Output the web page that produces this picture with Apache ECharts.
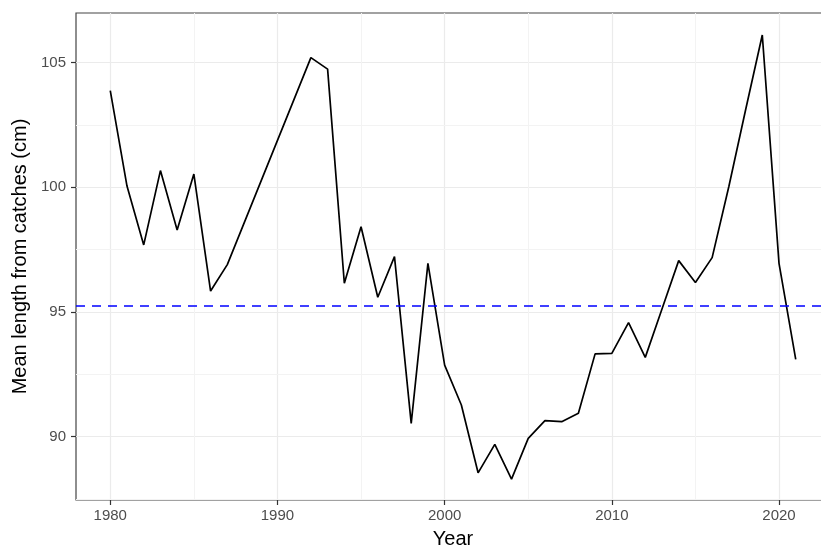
<!DOCTYPE html>
<html>
<head>
<meta charset="utf-8">
<script src="https://cdn.jsdelivr.net/npm/echarts@6/dist/echarts.min.js"></script>
<style>
html, body { margin: 0; padding: 0; background: #fff; }
#main { width: 821px; height: 548px; }
</style>
</head>
<body>
<div id="main"></div>
<script>
var years = [1980, 1981, 1982, 1983, 1984, 1985, 1986, 1987, 1992, 1993, 1994, 1995, 1996, 1997, 1998, 1999,
  2000, 2001, 2002, 2003, 2004, 2005, 2006, 2007, 2008, 2009, 2010, 2011, 2012, 2013, 2014, 2015, 2016,
  2017, 2018, 2019, 2020, 2021];
var meanLength = [103.88, 100.05, 97.69, 100.67, 98.29, 100.53, 95.84, 96.9, 105.2, 104.74, 96.15, 98.42, 95.59, 97.22, 90.53, 96.95,
  92.87, 91.27, 88.55, 89.69, 88.30, 89.93, 90.64, 90.60, 90.94, 93.32, 93.34, 94.57, 93.18, 95.12, 97.06, 96.18, 97.18,
  100.03, 103.1, 106.11, 96.95, 93.10];
var overallMean = 95.24;
var xTicks = [1980, 1990, 2000, 2010, 2020];
var yTicks = [90, 95, 100, 105];
var xMinor = [1985, 1995, 2005, 2015];
var yMinor = [87.5, 92.5, 97.5, 102.5];

var chartDom = document.getElementById('main');
var chart = echarts.init(chartDom);

var minorLines = [];
xMinor.forEach(function (v) { minorLines.push({ xAxis: v }); });
yMinor.forEach(function (v) { minorLines.push({ yAxis: v }); });

var option = {
  animation: false,
  textStyle: { fontFamily: 'Liberation Sans' },
  grid: {
    left: 76, top: 13, bottom: 48, width: 754,
    outerBoundsMode: 'none', containLabel: false,
    show: true, borderColor: '#444444', borderWidth: 1.2
  },
  xAxis: {
    type: 'value',
    min: 1977.95, max: 2023.05,
    name: 'Year', nameLocation: 'middle', nameGap: 29,
    nameTextStyle: { fontSize: 20, color: '#000' },
    axisLine: { show: false },
    axisTick: { show: true, length: 5, customValues: xTicks, lineStyle: { color: '#333', width: 1.2 } },
    axisLabel: { customValues: xTicks, fontSize: 15, color: '#4d4d4d', margin: 8,
      formatter: function (v) { return String(v); } },
    splitLine: { show: true, customValues: xTicks, lineStyle: { color: '#ebebeb', width: 1.2 } }
  },
  yAxis: {
    type: 'value',
    min: 87.46, max: 106.99,
    name: 'Mean length from catches (cm)', nameLocation: 'middle', nameGap: 42,
    nameTextStyle: { fontSize: 20, color: '#000' },
    axisLine: { show: false },
    axisTick: { show: true, length: 5, customValues: yTicks, lineStyle: { color: '#333', width: 1.2 } },
    axisLabel: { customValues: yTicks, fontSize: 15, color: '#4d4d4d', margin: 10 },
    splitLine: { show: true, customValues: yTicks, lineStyle: { color: '#ebebeb', width: 1.2 } }
  },
  series: [
    {
      type: 'line',
      data: years.map(function (y, i) { return [y, meanLength[i]]; }),
      showSymbol: false,
      lineStyle: { color: '#000', width: 1.7 },
      z: 3,
      markLine: {
        silent: true, symbol: 'none', label: { show: false },
        lineStyle: { color: '#f3f3f3', width: 1, type: 'solid' },
        data: minorLines,
        z: 1
      }
    },
    {
      type: 'line',
      data: [],
      z: 4,
      markLine: {
        silent: true, symbol: 'none', label: { show: false },
        lineStyle: { color: '#0000ff', width: 1.7, type: [9, 7] },
        data: [{ yAxis: overallMean }]
      }
    }
  ]
};
chart.setOption(option);
window.addEventListener('resize', () => chart.resize());
</script>
</body>
</html>
